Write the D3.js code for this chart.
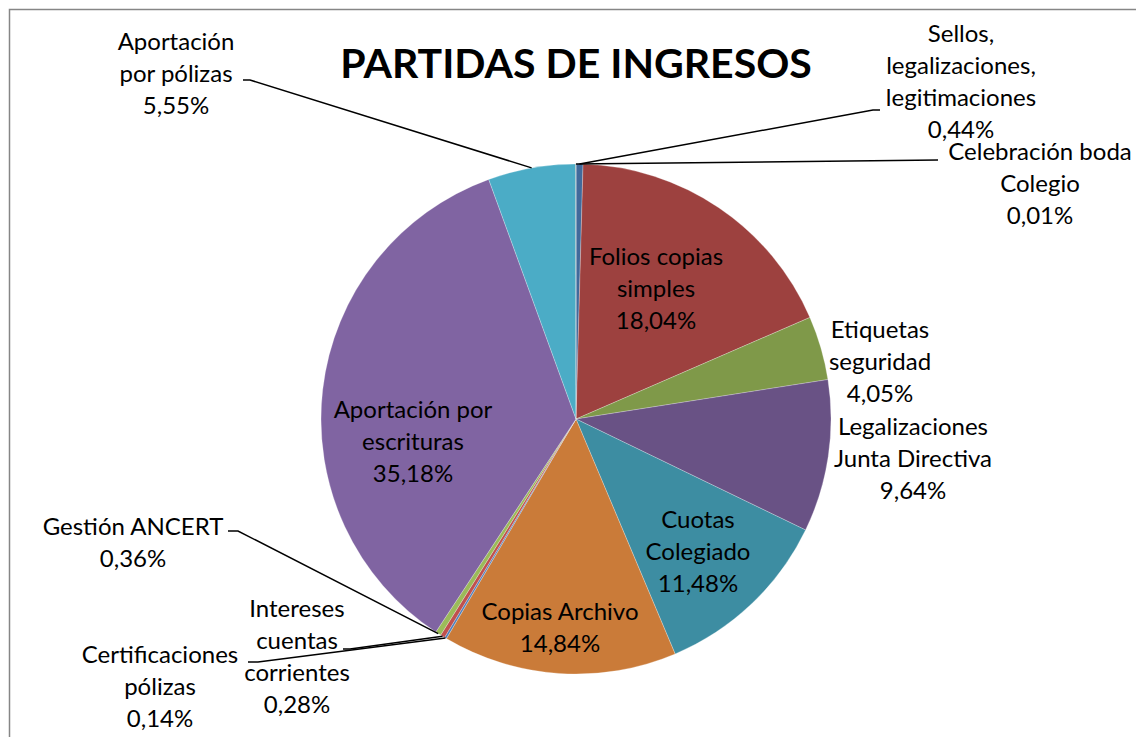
<!DOCTYPE html>
<html>
<head>
<meta charset="utf-8">
<script src="https://cdn.jsdelivr.net/npm/d3@7"></script>
<style>
  body { margin: 0; background: #fff; }
  text { font-family: Lato, "Open Sans", sans-serif; fill: #000; }
</style>
</head>
<body>
<script>
// slices in drawing order, clockwise from 12 o'clock
var categories = [
    "Sellos, legalizaciones, legitimaciones"
  , "Folios copias simples"
  , "Etiquetas seguridad"
  , "Legalizaciones Junta Directiva"
  , "Cuotas Colegiado"
  , "Copias Archivo"
  , "Certificaciones pólizas"
  , "Intereses cuentas corrientes"
  , "Gestión ANCERT"
  , "Aportación por escrituras"
  , "Aportación por pólizas"
  , "Celebración boda Colegio"
  ];
var values = [0.44, 18.04, 4.05, 9.64, 11.48, 14.84, 0.14, 0.28, 0.36, 35.18, 5.55, 0.01];

// how each label breaks into lines (same words as categories)
var labelLines = [
    ["Sellos,", "legalizaciones,", "legitimaciones"]
  , ["Folios copias", "simples"]
  , ["Etiquetas", "seguridad"]
  , ["Legalizaciones", "Junta Directiva"]
  , ["Cuotas", "Colegiado"]
  , ["Copias Archivo"]
  , ["Certificaciones", "pólizas"]
  , ["Intereses", "cuentas", "corrientes"]
  , ["Gestión ANCERT"]
  , ["Aportación por", "escrituras"]
  , ["Aportación", "por pólizas"]
  , ["Celebración boda", "Colegio"]
  ];

var colors = ["#416a9b", "#9d413f", "#7f9949", "#695285", "#3d8da2", "#ca7b39",
              "#4f81bd", "#c0504d", "#9bbb59", "#8064a2", "#4bacc6", "#f79646"];

// label placement: [centre x, first baseline]
var labelPos = [
    [961, 42], [656, 265], [880, 338], [913, 435], [698, 528], [560, 620],
    [160, 663], [297, 617], [133, 535], [413, 418], [176, 50], [1040, 160]
  ];
// leader line label-side points (null = label inside slice)
var leaders = [
    [[880, 110], [873, 110]], null, null, null, null, null,
    [[248, 662], [258, 662]], [[343, 649], [350, 649]], [[228, 531], [238, 531]],
    null, [[243, 80], [250, 80]], [[938, 160]]
  ];

var width = 1136
  , height = 737
  , cx = 576
  , cy = 419
  , radius = 255
  , lineGap = 32
  ;

var fmt = d3.format(".2f");
function pct (v) { return fmt(v).replace(".", ",") + "%"; }

var svg = d3.select("body").append("svg").attr("width", width).attr("height", height);

svg.append("rect")
    .attr("x", 9.5).attr("y", 9.5)
    .attr("width", 1200).attr("height", 800)
    .attr("fill", "#fff")
    .attr("stroke", "#868686")
    .attr("stroke-width", 1.5);

svg.append("text")
    .attr("x", cx)
    .attr("y", 78)
    .attr("text-anchor", "middle")
    .attr("font-weight", "bold")
    .attr("font-size", 41)
    .text("PARTIDAS DE INGRESOS");

var pie = d3.pie().sort(null).value(function (d) { return d; });
var arcs = pie(values);
var arc = d3.arc().innerRadius(0).outerRadius(radius);
var edge = d3.arc().innerRadius(radius).outerRadius(radius);

var g = svg.append("g").attr("transform", "translate(" + cx + "," + cy + ")");

g.selectAll("path")
    .data(arcs)
  .enter().append("path")
    .attr("d", arc)
    .attr("fill", function (d, i) { return colors[i]; })
    .attr("stroke", "#ffffff")
    .attr("stroke-opacity", 0.5)
    .attr("stroke-width", 0.5);

// leader lines
arcs.forEach(function (d, i) {
    if (!leaders[i]) return;
    var p = edge.centroid(d)
      , pts = leaders[i].concat([[p[0] + cx, p[1] + cy]])
      ;
    svg.append("path")
        .attr("d", d3.line()(pts))
        .attr("fill", "none")
        .attr("stroke", "#000")
        .attr("stroke-width", 1.5);
});

// labels
arcs.forEach(function (d, i) {
    var lines = labelLines[i].concat([pct(values[i])])
      , t = svg.append("text")
            .attr("text-anchor", "middle")
            .attr("font-size", 24)
      ;
    lines.forEach(function (s, k) {
        t.append("tspan")
            .attr("x", labelPos[i][0])
            .attr("y", labelPos[i][1] + k * lineGap)
            .text(s);
    });
});
</script>
</body>
</html>
